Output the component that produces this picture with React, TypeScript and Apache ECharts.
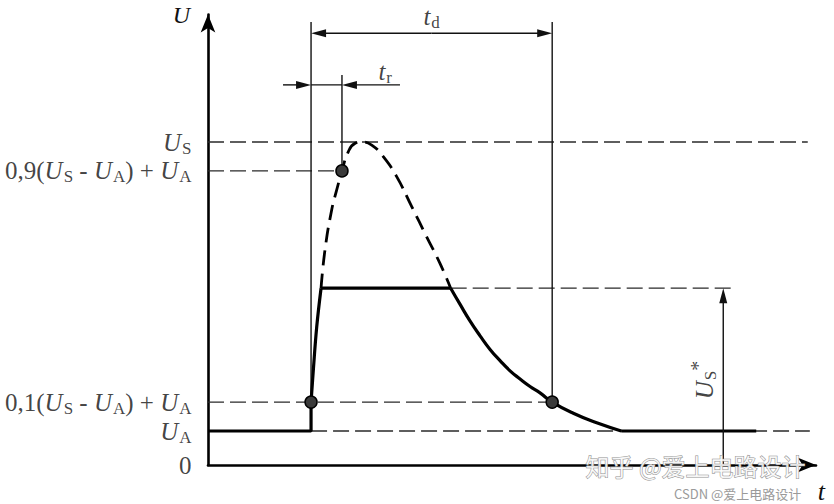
import React, { useEffect, useRef } from "react";
import * as echarts from "echarts";

// ---- axis ranges ----
const X_MAX = 59;
const Y_MAX = 13.25;

// ---- voltage levels ----
const levelValues = [0, 1.0, 1.85, 8.65, 9.5];
const levelTexts = [
  "{n|0}",
  "{i|U}{s|A}",
  "{n|0,1(}{i|U}{s|S}{n| - }{i|U}{s|A}{n|) + }{i|U}{s|A}",
  "{n|0,9(}{i|U}{s|S}{n| - }{i|U}{s|A}{n|) + }{i|U}{s|A}",
  "{i|U}{s|S}",
];

// ---- waveform (solid, measured) ----
const baseLeft = [[0, 1.0], [10.0, 1.0], [10.0, 1.85]];
const riseCurve = [[10.0, 1.85], [10.22, 2.79], [10.55, 4.06], [10.97, 5.2]];
const plateau = [[10.97, 5.2], [23.55, 5.2]];
const decayCurve = [
  [23.55, 5.2], [24.45, 4.73], [25.42, 4.24], [26.4, 3.8], [27.37, 3.4],
  [28.34, 3.07], [29.31, 2.77], [30.28, 2.53], [31.25, 2.31], [32.22, 2.12],
  [33.4, 1.85], [35.45, 1.52], [37.72, 1.24], [40.1, 1.0],
];
const baseRight = [[40.1, 1.0], [53.2, 1.0]];

// ---- unclamped pulse (dashed) ----
const openPulse = [
  [10.97, 5.2], [11.35, 6.32], [12.0, 7.5], [12.49, 8.09], [13.0, 8.65],
  [13.61, 9.21], [14.26, 9.46], [15.0, 9.5], [15.89, 9.41], [17.01, 9.07],
  [18.31, 8.48], [19.77, 7.6], [21.22, 6.71], [22.51, 5.93], [23.55, 5.2],
];

// ---- dashed guide lines ----
const guideLines = [
  [[0, 9.5], [58.2, 9.5]],
  [[0, 8.65], [13.0, 8.65]],
  [[0, 1.85], [33.4, 1.85]],
  [[10.0, 1.0], [58.4, 1.0]],
  [[23.55, 5.2], [50.97, 5.2]],
];

// ---- thin solid reference lines ----
const thinLines = [
  [[10.0, 1.0], [10.0, 13.03]],
  [[13.0, 8.65], [13.0, 11.47]],
  [[33.4, 1.85], [33.4, 13.03]],
  [[10.0, 11.18], [13.0, 11.18]],
];

// ---- arrows: [x1, y1, x2(tip), y2(tip)] ----
const arrows = [
  [21.7, 12.7, 10.0, 12.7],
  [21.7, 12.7, 33.4, 12.7],
  [7.28, 11.18, 10.0, 11.18],
  [18.63, 11.18, 13.0, 11.18],
  [50.0, 0, 50.0, 5.2],
];

// ---- marked points ----
const markPoints = [[10.0, 1.85], [13.0, 8.65], [33.4, 1.85]];

// ---- annotation labels ----
const annoPoints = [[21.7, 13.2], [17.2, 11.56], [48.2, 2.5]];
const annoTexts = ["{i|t}{s|d}", "{i|t}{s|r}", "{i|U}{s|S}{p|*}"];
const annoRotate = [0, 0, 90];

const SERIF = '"Liberation Serif", "DejaVu Serif", serif';
const rich = {
  n: { fontFamily: SERIF, fontSize: 25, color: "#111", lineHeight: 26 },
  i: { fontFamily: SERIF, fontSize: 25, fontStyle: "italic", color: "#111", lineHeight: 26 },
  s: { fontFamily: SERIF, fontSize: 17, color: "#111", lineHeight: 16, padding: [12, 0, 0, 1] },
  p: { fontFamily: SERIF, fontSize: 20, color: "#111", lineHeight: 18, padding: [0, 0, 14, 0] },
};

export default function App() {
  const ref = useRef<HTMLDivElement>(null);
  useEffect(() => {
    if (!ref.current) return;
    const chart = echarts.init(ref.current, undefined, { renderer: "svg" });

    const lineSeries = (data: number[][], style: any, extra: any = {}) => ({
      type: "line",
      data,
      symbol: "none",
      silent: true,
      lineStyle: style,
      ...extra,
    });

    const series: any[] = [];
    guideLines.forEach((g) =>
      series.push(lineSeries(g, { color: "#2a2a2a", width: 1.3, type: [16, 6] }, { z: 1 }))
    );
    thinLines.forEach((g) =>
      series.push(lineSeries(g, { color: "#111", width: 1.4 }, { z: 2 }))
    );
    series.push(lineSeries(openPulse, { color: "#000", width: 2.8, type: [15, 8] }, { smooth: 0.5, z: 3 }));
    series.push(lineSeries(baseLeft, { color: "#000", width: 3.2 }, { z: 4 }));
    series.push(lineSeries(riseCurve, { color: "#000", width: 3.2 }, { smooth: 0.4, z: 4 }));
    series.push(lineSeries(plateau, { color: "#000", width: 3.2 }, { z: 4 }));
    series.push(lineSeries(decayCurve, { color: "#000", width: 3.2 }, { smooth: 0.5, z: 4 }));
    series.push(lineSeries(baseRight, { color: "#000", width: 3.2 }, { z: 4 }));

    series.push({
      type: "custom",
      silent: true,
      z: 5,
      data: arrows,
      encode: { x: [0, 2], y: [1, 3] },
      renderItem: (_p: any, api: any) => {
        const p1 = api.coord([api.value(0), api.value(1)]);
        const p2 = api.coord([api.value(2), api.value(3)]);
        const dx = p2[0] - p1[0];
        const dy = p2[1] - p1[1];
        const len = Math.hypot(dx, dy) || 1;
        const ux = dx / len;
        const uy = dy / len;
        const L = 15;
        const W = 4;
        const b = [p2[0] - ux * L, p2[1] - uy * L];
        return {
          type: "group",
          children: [
            { type: "line", shape: { x1: p1[0], y1: p1[1], x2: b[0] + ux * 2, y2: b[1] + uy * 2 }, style: { stroke: "#111", lineWidth: 1.4 } },
            {
              type: "polygon",
              shape: { points: [p2, [b[0] - uy * W, b[1] + ux * W], [b[0] + uy * W, b[1] - ux * W]] },
              style: { fill: "#111" },
            },
          ],
        };
      },
    });

    series.push({
      type: "scatter",
      data: markPoints,
      symbolSize: 12,
      silent: true,
      z: 6,
      itemStyle: { color: "#3a3a3a", borderColor: "#000", borderWidth: 1.5, opacity: 1 },
    });

    series.push({
      type: "scatter",
      silent: true,
      z: 7,
      symbolSize: 1,
      itemStyle: { color: "rgba(0,0,0,0)" },
      data: levelValues.map((v, i) => ({
        value: [0, v],
        label: { show: true, position: "left", distance: 16, formatter: levelTexts[i], rich, color: "#111", textBorderWidth: 0 },
      })),
    });

    series.push({
      type: "scatter",
      silent: true,
      z: 7,
      symbolSize: 1,
      itemStyle: { color: "rgba(0,0,0,0)" },
      data: annoPoints.map((p, i) => ({
        value: p,
        label: { show: true, position: "inside", rotate: annoRotate[i], formatter: annoTexts[i], rich, color: "#111", textBorderWidth: 0, textBorderColor: "transparent" },
      })),
    });

    chart.setOption({
      animation: false,
      backgroundColor: "#fff",
      grid: { left: 208, right: 18, top: 14.5, bottom: 39 },
      xAxis: {
        type: "value",
        min: 0,
        max: X_MAX,
        axisLine: { show: true, onZero: false, lineStyle: { color: "#000", width: 2.6 }, symbol: ["none", "arrow"], symbolSize: [11, 18] },
        axisTick: { show: false },
        axisLabel: { show: false },
        splitLine: { show: false },
        name: "t",
        nameLocation: "end",
        nameGap: 9,
        nameTextStyle: { fontFamily: SERIF, fontStyle: "italic", fontWeight: "normal", fontSize: 26, color: "#111", align: "right", verticalAlign: "top", padding: [13, 0, 0, 0] },
      },
      yAxis: {
        type: "value",
        min: 0,
        max: Y_MAX,
        axisLine: { show: true, onZero: false, lineStyle: { color: "#000", width: 2.6 }, symbol: ["none", "arrow"], symbolSize: [11, 18] },
        axisTick: { show: false },
        axisLabel: { show: false },
        splitLine: { show: false },
        name: "U",
        nameLocation: "end",
        nameGap: 0,
        nameTextStyle: { fontFamily: SERIF, fontStyle: "italic", fontWeight: "normal", fontSize: 24, color: "#111", align: "right", verticalAlign: "middle", padding: [0, 18, 0, 0] },
      },
      graphic: [
        {
          type: "text",
          left: 585,
          top: 453,
          z: 100,
          style: { text: "知乎 @爱上电路设计", font: '24px "Noto Sans CJK SC"', lineHeight: 24, fill: "rgba(255,255,255,0.85)", stroke: "#8f8f8f", lineWidth: 1 },
        },
        {
          type: "text",
          left: 674,
          top: 487,
          z: 100,
          style: { text: "CSDN @爱上电路设计", font: '13px "Noto Sans CJK SC"', lineHeight: 13, fill: "#9a9a9a" },
        },
      ],
      series,
    });
    return () => chart.dispose();
  }, []);
  return <div ref={ref} style={{ position: "absolute", left: 0, top: 0, width: 834, height: 504, background: "#fff" }} />;
}
